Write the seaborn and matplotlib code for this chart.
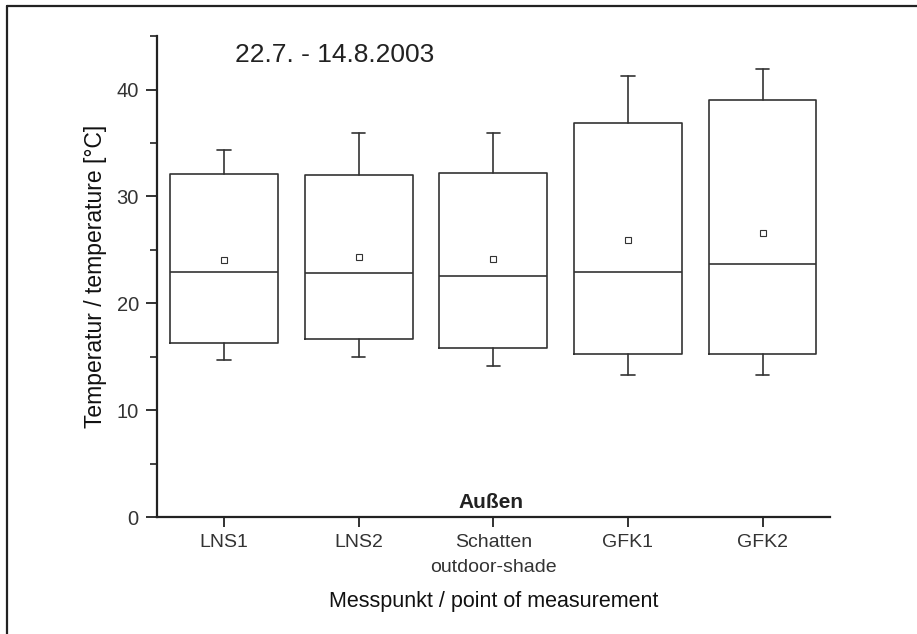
import matplotlib
matplotlib.use("Agg")
import matplotlib.pyplot as plt
import matplotlib.lines as mlines
from matplotlib.ticker import MultipleLocator
import seaborn as sns

# Messpunkte (categories)
points = ["LNS1", "LNS2", "Schatten\noutdoor-shade", "GFK1", "GFK2"]
# box statistics (°C)
whisker_low = [14.65, 14.95, 14.1, 13.3, 13.3]
q1 = [16.3, 16.65, 15.8, 15.3, 15.3]
median = [22.9, 22.8, 22.6, 22.9, 23.7]
q3 = [32.1, 32.05, 32.2, 36.9, 39.0]
whisker_high = [34.3, 35.9, 35.9, 41.3, 41.95]
mean = [24.05, 24.35, 24.15, 25.9, 26.6]

title = "22.7. - 14.8.2003"
group_label = "Außen"


def box_stats():
    '''
    Build the stats dicts that ax.bxp wants from the named lists
    '''
    return [
        dict(whislo=lo, q1=a, med=m, q3=b, whishi=hi, fliers=[], label=p)
        for p, lo, a, m, b, hi in zip(points, whisker_low, q1, median,
                                      q3, whisker_high)
    ]


def main():
    sns.set_theme(style="ticks")
    plt.rcParams["font.family"] = ["Liberation Sans", "DejaVu Sans"]

    fig = plt.figure(figsize=(9.17, 6.34), dpi=100)
    ax = fig.add_axes([0.171, 0.1845, 0.734, 0.7585])

    # mean markers through seaborn's categorical axis (positions 0..4)
    sns.pointplot(x=points, y=mean, ax=ax, linestyle="none", marker="s",
                  markersize=4, markerfacecolor="white",
                  markeredgecolor="#333333", markeredgewidth=0.8,
                  color="#333333", zorder=5)

    line = dict(color="#333333", linewidth=1.2)
    ax.bxp(box_stats(), positions=range(len(points)), widths=0.8,
           showfliers=False, manage_ticks=False,
           boxprops=line, medianprops=line, whiskerprops=line,
           capprops=dict(color="#333333", linewidth=1.2), capwidths=0.1)

    ax.set_xlim(-0.5, 4.5)
    ax.set_ylim(0, 45)
    ax.set_xticks(range(len(points)))
    ax.set_xticklabels(points, fontsize=14, color="#333333",
                       linespacing=1.6)
    ax.yaxis.set_major_locator(MultipleLocator(10))
    ax.yaxis.set_minor_locator(MultipleLocator(5))
    ax.tick_params(axis="y", which="major", labelsize=14.5, length=8,
                   width=1.3, colors="#222222", labelcolor="#333333", pad=5)
    ax.tick_params(axis="y", which="minor", length=5, width=1.2,
                   colors="#222222")
    ax.tick_params(axis="x", length=7.5, width=1.3, colors="#222222",
                   labelcolor="#333333", pad=5)

    sns.despine(ax=ax)
    for side in ["left", "bottom"]:
        ax.spines[side].set_linewidth(1.6)
        ax.spines[side].set_color("#222222")

    ax.set_ylabel("Temperatur / temperature [°C]", fontsize=16.5,
                  color="#111111", labelpad=7)
    ax.set_xlabel("Messpunkt / point of measurement", fontsize=15.5,
                  color="#111111", labelpad=11)

    ax.text(0.116, 0.946, title, transform=ax.transAxes, fontsize=19,
            color="#222222", va="baseline", ha="left")
    ax.text(0.497, 0.019, group_label, transform=ax.transAxes, fontsize=15,
            fontweight="bold", color="#222222", ha="center", va="baseline")

    # frame lines on the top and left edge of the picture
    fig.add_artist(mlines.Line2D([6.5 / 917, 1.0], [1 - 5.5 / 634] * 2,
                                 color="#222222", linewidth=1.6))
    fig.add_artist(mlines.Line2D([6.5 / 917] * 2, [0.0, 1 - 5.5 / 634],
                                 color="#222222", linewidth=1.6))

    fig.savefig("out.png", dpi=100)


if __name__ == "__main__":
    main()
